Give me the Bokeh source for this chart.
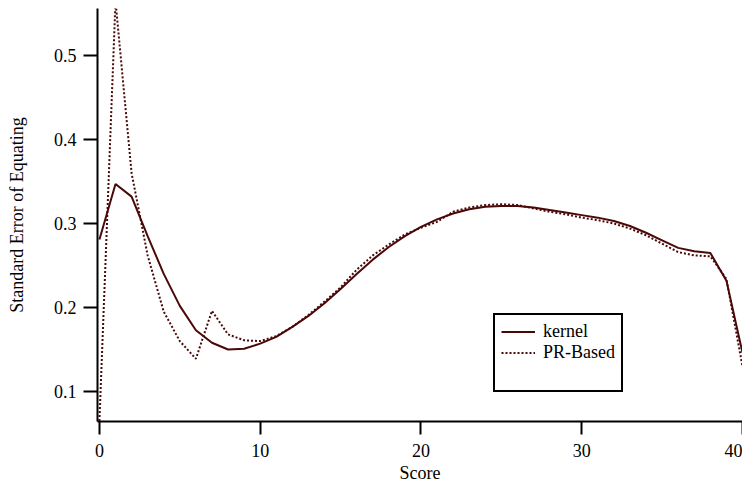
from bokeh.plotting import figure
from bokeh.models import Range1d, FixedTicker, Legend, LegendItem
from bokeh.embed import file_html
from bokeh.resources import INLINE

score = list(range(0, 41))
kernel = [0.281, 0.347, 0.332, 0.285, 0.240, 0.202, 0.173, 0.158, 0.150, 0.151,
          0.157, 0.165, 0.177, 0.190, 0.205, 0.222, 0.240, 0.257, 0.272, 0.285,
          0.296, 0.305, 0.312, 0.317, 0.320, 0.321, 0.321, 0.319, 0.316, 0.313,
          0.310, 0.307, 0.303, 0.297, 0.289, 0.280, 0.271, 0.267, 0.265, 0.232,
          0.146]
pr_based = [0.065, 0.565, 0.360, 0.262, 0.195, 0.160, 0.139, 0.196, 0.168, 0.161,
            0.160, 0.166, 0.177, 0.191, 0.207, 0.224, 0.245, 0.262, 0.275, 0.287,
            0.295, 0.302, 0.314, 0.319, 0.322, 0.323, 0.322, 0.318, 0.314, 0.311,
            0.307, 0.304, 0.300, 0.294, 0.286, 0.276, 0.266, 0.262, 0.261, 0.234,
            0.130]
x_ticks = [0, 10, 20, 30, 40]
y_ticks = [0.1, 0.2, 0.3, 0.4, 0.5]

COLOR = "#4a0808"
FONT = "Liberation Serif"

p = figure(frame_width=645, frame_height=413, output_backend="svg",
           toolbar_location=None, x_range=Range1d(-0.12, 40),
           y_range=Range1d(0.0643, 0.556),
           min_border_left=97, min_border_right=0, min_border_top=8,
           min_border_bottom=68)
p.outline_line_color = None
p.xgrid.visible = False
p.ygrid.visible = False

r1 = p.line(score, kernel, line_color=COLOR, line_width=2)
r2 = p.line(score, pr_based, line_color=COLOR, line_width=2, line_dash="2 2")
dummy = p.line(score, kernel, line_alpha=0)

for ax, ticks in ((p.xaxis[0], x_ticks), (p.yaxis[0], y_ticks)):
    ax.ticker = FixedTicker(ticks=ticks)
    ax.minor_tick_line_color = None
    ax.major_tick_in = 0
    ax.major_tick_out = 14
    ax.major_tick_line_width = 2
    ax.axis_line_width = 2
    ax.major_label_text_font = FONT
    ax.major_label_text_font_size = "18px"
    ax.major_label_text_font_style = "normal"
    ax.major_label_text_color = "black"
    ax.axis_label_text_font = FONT
    ax.axis_label_text_font_size = "18px"
    ax.axis_label_text_font_style = "normal"
    ax.axis_label_text_color = "black"

p.yaxis.major_label_standoff = 7
p.xaxis.major_label_standoff = 9
p.xaxis.major_tick_out = 13
p.xaxis.axis_label = "Score"
p.yaxis.axis_label = "Standard Error of Equating"
p.xaxis.axis_label_standoff = 3
p.yaxis.axis_label_standoff = 24

legend = Legend(items=[LegendItem(label="kernel", renderers=[r1]),
                       LegendItem(label="PR-Based", renderers=[r2]),
                       LegendItem(label=" ", renderers=[dummy])],
                location=(396, 29), padding=6, spacing=0,
                label_height=21, glyph_height=21, glyph_width=34,
                label_standoff=8, margin=0,
                border_line_color="black", border_line_width=2,
                border_line_alpha=1,
                label_text_font=FONT, label_text_font_size="18px",
                label_text_color="black", background_fill_alpha=1)
p.add_layout(legend)

open("out.html", "w").write(file_html(p, INLINE))
